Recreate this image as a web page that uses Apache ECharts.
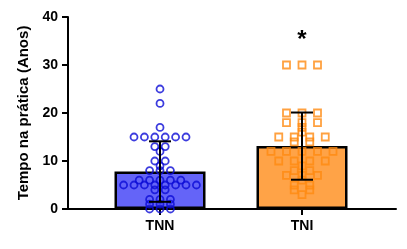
<!DOCTYPE html>
<html>
<head>
<meta charset="utf-8">
<script src="https://cdn.jsdelivr.net/npm/echarts@6/dist/echarts.min.js"></script>
<style>
  html, body { margin: 0; padding: 0; background: #fff; }
  #chart { width: 407px; height: 249px; }
</style>
</head>
<body>
<div id="chart"></div>
<script>
const categories = ['TNN', 'TNI'];
const yTicks = [0, 10, 20, 30, 40];
const means = [7.8, 13.1];
const sds = [6.3, 7.0];
const tnnValues = [
  25, 22, 17,
  15, 15, 15, 15, 15, 15,
  13, 13, 12, 10, 10, 9,
  8, 8, 8,
  6, 6, 6, 6, 6,
  5, 5, 5, 5, 5, 5, 5, 5,
  4, 4, 2, 2, 2, 1, 1, 1, 0, 0, 0,
];
const tniValues = [
  30, 30, 30,
  20, 20, 20,
  18, 18, 18, 17, 16,
  15, 15, 15, 15, 14, 14,
  12, 12, 12, 12, 12,
  10, 10, 10, 10, 9, 8, 8,
  7, 7, 7, 6, 5, 5, 4, 4, 3,
];
const significance = ['', '*'];

const FONT = 'Arial, "Liberation Sans", sans-serif';
const UNIT_PX = 142;

// simple centred spread of equal values, like a column scatter
const swarm = (values, center, stepPx) => {
  const counts = {};
  values.forEach((v) => { counts[v] = (counts[v] || 0) + 1; });
  const seen = {};
  return values.map((v) => {
    const i = seen[v] || 0;
    seen[v] = i + 1;
    const off = (i - (counts[v] - 1) / 2) * stepPx / UNIT_PX;
    return [center + off, v];
  });
};

const chart = echarts.init(document.getElementById('chart'), null, { renderer: 'canvas' });

const option = {
  animation: false,
  grid: { left: 68, right: 11, top: 17, bottom: 40 },
  xAxis: {
    type: 'value',
    min: -0.648,
    max: 1.662,
    splitLine: { show: false },
    axisLine: { show: true, onZero: false, lineStyle: { color: '#000', width: 2 } },
    axisTick: { show: true, customValues: [0, 1], length: 6, lineStyle: { color: '#000', width: 2 } },
    axisLabel: {
      customValues: [0, 1],
      formatter: (v) => categories[Math.round(v)] || '',
      color: '#000', fontFamily: FONT, fontWeight: 'bold', fontSize: 14, margin: 10,
    },
  },
  yAxis: {
    type: 'value',
    min: yTicks[0],
    max: yTicks[yTicks.length - 1],
    interval: 10,
    name: 'Tempo na prática (Anos)',
    nameLocation: 'middle',
    nameRotate: 90,
    nameGap: 30,
    nameTextStyle: { color: '#000', fontFamily: FONT, fontWeight: 'bold', fontSize: 15 },
    splitLine: { show: false },
    axisLine: { show: true, onZero: false, lineStyle: { color: '#000', width: 2 } },
    axisTick: { show: true, length: 6, lineStyle: { color: '#000', width: 2 } },
    axisLabel: { color: '#000', fontFamily: FONT, fontWeight: 'bold', fontSize: 14, margin: 10 },
  },
  series: [
    {
      type: 'bar',
      barWidth: 91,
      z: 1,
      data: means.map((m, i) => ({
        value: [i, m],
        itemStyle: {
          color: i === 0 ? '#6464f8' : '#ffa347',
          borderColor: '#000',
          borderWidth: 2.5,
        },
      })),
    },
    {
      type: 'scatter',
      z: 3,
      symbol: 'circle',
      symbolSize: 7,
      itemStyle: { color: 'transparent', borderColor: '#0b0bd6', borderWidth: 1.8 },
      data: swarm(tnnValues, 0, 10.4),
    },
    {
      type: 'scatter',
      z: 3,
      symbol: 'rect',
      symbolSize: 7,
      itemStyle: { color: 'transparent', borderColor: '#ff8a10', borderWidth: 1.8 },
      data: swarm(tniValues, 1, 15.5),
    },
    {
      type: 'custom',
      z: 5,
      data: means.map((m, i) => [i, m, sds[i]]),
      renderItem: (params, api) => {
        const x = api.value(0);
        const m = api.value(1);
        const s = api.value(2);
        const top = api.coord([x, m + s]);
        const bot = api.coord([x, m - s]);
        const half = 11;
        const style = { stroke: '#000', lineWidth: 2 };
        return {
          type: 'group',
          children: [
            { type: 'line', shape: { x1: top[0], y1: top[1], x2: bot[0], y2: bot[1] }, style },
            { type: 'line', shape: { x1: top[0] - half, y1: top[1], x2: top[0] + half, y2: top[1] }, style },
            { type: 'line', shape: { x1: bot[0] - half, y1: bot[1], x2: bot[0] + half, y2: bot[1] }, style },
          ],
        };
      },
    },
    {
      type: 'custom',
      z: 6,
      data: significance.map((s, i) => [i, means[i] + sds[i] + 15, s]),
      renderItem: (params, api) => {
        const p = api.coord([api.value(0), api.value(1)]);
        return {
          type: 'text',
          style: {
            x: p[0], y: p[1],
            text: significance[params.dataIndex],
            fill: '#000',
            font: 'bold 24px ' + FONT,
            align: 'center',
            verticalAlign: 'middle',
          },
        };
      },
    },
  ],
};

chart.setOption(option);
</script>
</body>
</html>
